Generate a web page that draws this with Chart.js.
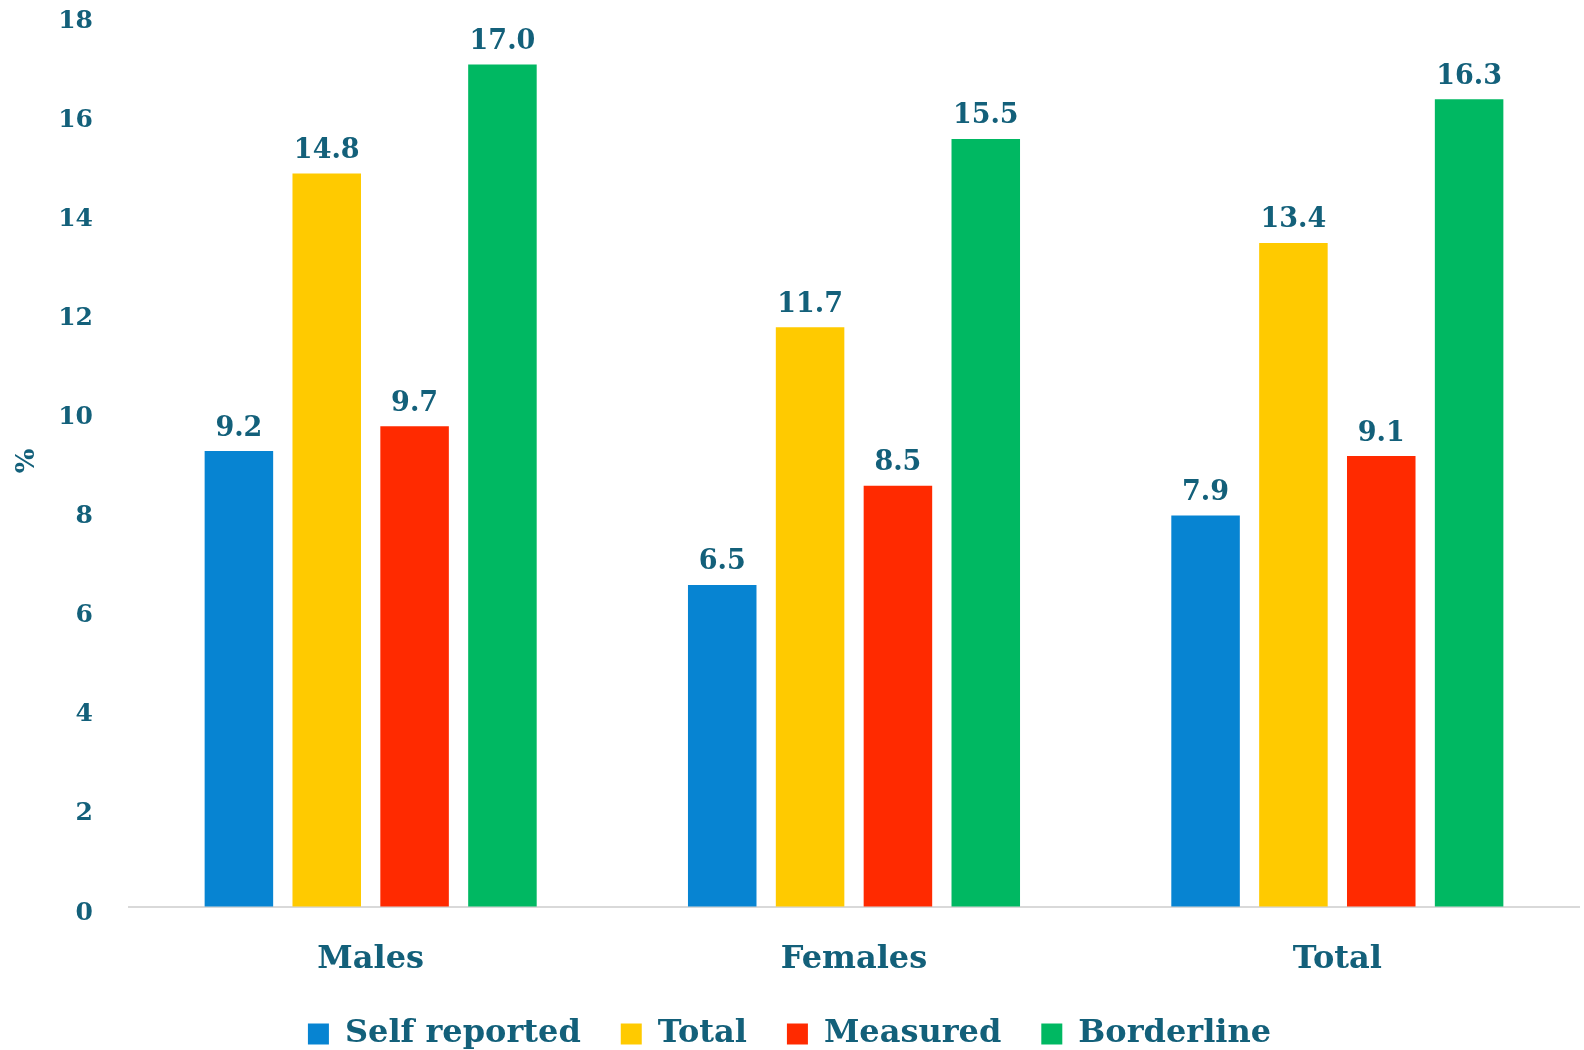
<!DOCTYPE html>
<html>
<head>
<meta charset="utf-8">
<script src="https://cdn.jsdelivr.net/npm/chart.js@4.4.0/dist/chart.umd.min.js"></script>
<style>
  html, body { margin: 0; padding: 0; background: #fff; }
  #wrap { width: 1584px; height: 1050px; }
</style>
</head>
<body>
<div id="wrap"><canvas id="bars"></canvas></div>
<script>
const categories = ['Males', 'Females', 'Total'];
const seriesNames = ['Self reported', 'Total', 'Measured', 'Borderline'];
const selfReported = [9.2, 6.5, 7.9];
const totalVals = [14.8, 11.7, 13.4];
const measured = [9.7, 8.5, 9.1];
const borderline = [17.0, 15.5, 16.3];
const yTicks = [0, 2, 4, 6, 8, 10, 12, 14, 16, 18];

const textColor = '#13607A';
const fontFamily = '"DejaVu Serif", "Liberation Serif", serif';
const colors = ['#0784D2', '#FFCA00', '#FF2A00', '#00B862'];

// draws the value above every bar
const valueLabels = {
    id: 'valueLabels',
    afterDatasetsDraw(chart) {
        const ctx = chart.ctx;
        ctx.save();
        ctx.font = 'bold 27px ' + fontFamily;
        ctx.fillStyle = textColor;
        ctx.textAlign = 'center';
        ctx.textBaseline = 'bottom';
        chart.data.datasets.forEach((ds, i) => {
            chart.getDatasetMeta(i).data.forEach((bar, j) => {
                ctx.fillText(ds.data[j].toFixed(1), bar.x, bar.y - 9);
            });
        });
        ctx.restore();
    }
};

// wide gaps between legend items but a short legend box
const legendHeight = {
    id: 'legendHeight',
    afterInit(chart) {
        const lg = chart.legend;
        const fit = lg.fit.bind(lg);
        lg.fit = function() {
            fit();
            this.height = 72;
        };
    }
};

const ctx = document.getElementById('bars').getContext('2d');
new Chart(ctx, {
    type: 'bar',
    data: {
        labels: categories,
        datasets: [selfReported, totalVals, measured, borderline].map((vals, i) => ({
            label: seriesNames[i],
            data: vals,
            backgroundColor: colors[i],
            barPercentage: 0.78,
            categoryPercentage: 0.727
        }))
    },
    options: {
        responsive: true,
        maintainAspectRatio: false,
        animation: false,
        layout: { padding: { top: 5, right: 5, left: 0, bottom: 0 } },
        plugins: {
            legend: {
                position: 'bottom',
                labels: {
                    color: textColor,
                    font: { family: fontFamily, size: 32, weight: 'bold' },
                    boxWidth: 21,
                    boxHeight: 21,
                    padding: 40
                }
            },
            tooltip: { enabled: false }
        },
        scales: {
            x: {
                grid: { display: false },
                border: { color: '#D9D9D9', width: 2 },
                afterFit: axis => { axis.height = 71; },
                ticks: {
                    color: textColor,
                    padding: 25,
                    font: { family: fontFamily, size: 32, weight: 'bold' }
                }
            },
            y: {
                min: 0,
                max: 18,
                afterBuildTicks: axis => { axis.ticks = yTicks.map(v => ({ value: v })); },
                afterFit: axis => { axis.width = 129; },
                grid: { display: true, drawOnChartArea: false, color: 'transparent', tickLength: 36 },
                border: { display: false },
                title: {
                    display: true,
                    text: '%',
                    color: textColor,
                    font: { family: fontFamily, size: 26, weight: 'bold' },
                    padding: { top: 12, bottom: 0 }
                },
                ticks: {
                    color: textColor,
                    padding: 0,
                    labelOffset: 6,
                    font: { family: fontFamily, size: 25, weight: 'bold' }
                }
            }
        }
    },
    plugins: [valueLabels, legendHeight]
});
</script>
</body>
</html>
